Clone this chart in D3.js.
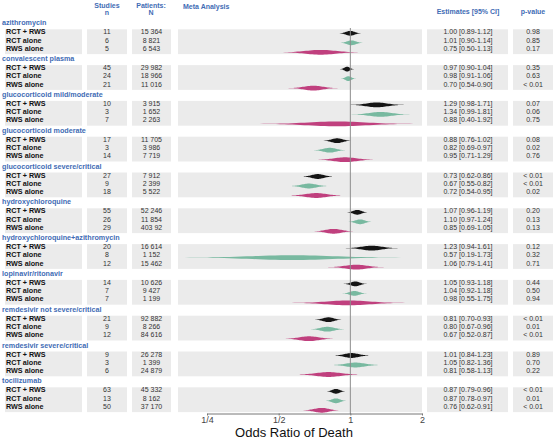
<!DOCTYPE html>
<html>
<head>
<meta charset="utf-8">
<script src="https://cdn.jsdelivr.net/npm/d3@7"></script>
<style>
  body { margin: 0; background: #fff; }
  svg text { font-family: "Liberation Sans", Arial, sans-serif; }
</style>
</head>
<body>
<div id="chart"></div>
<script>
"use strict";

var width = 555;
var height = 438;

// treatments (one panel each)
var groups = [
    "azithromycin",
    "convalescent plasma",
    "glucocorticoid mild/moderate",
    "glucocorticoid moderate",
    "glucocorticoid severe/critical",
    "hydroxychloroquine",
    "hydroxychloroquine+azithromycin",
    "lopinavir/ritonavir",
    "remdesivir not severe/critical",
    "remdesivir severe/critical",
    "tocilizumab"
];

var rowLabels = ["RCT + RWS", "RCT alone", "RWS alone"];

// per group: [RCT + RWS, RCT alone, RWS alone]
var studies = [
    [11, 6, 5], [45, 24, 21], [10, 3, 7], [17, 3, 14], [27, 9, 18], [55, 26, 29],
    [20, 8, 12], [14, 7, 7], [21, 9, 12], [9, 3, 6], [63, 13, 50]
];

var patients = [
    ["15 364", "8 821", "6 543"], ["29 982", "18 966", "11 016"], ["3 915", "1 652", "2 263"],
    ["11 705", "3 986", "7 719"], ["7 912", "2 399", "5 522"], ["52 246", "11 854", "403 92"],
    ["16 614", "1 152", "15 462"], ["10 626", "9 427", "1 199"], ["92 882", "8 266", "84 616"],
    ["26 278", "1 399", "24 879"], ["45 332", "8 162", "37 170"]
];

var estimates = [
    [1.00, 1.01, 0.75], [0.97, 0.98, 0.70], [1.29, 1.34, 0.88], [0.88, 0.82, 0.95],
    [0.73, 0.67, 0.72], [1.07, 1.10, 0.85], [1.23, 0.57, 1.06], [1.05, 1.04, 0.98],
    [0.81, 0.80, 0.67], [1.01, 1.05, 0.81], [0.87, 0.87, 0.76]
];

var lower = [
    [0.89, 0.90, 0.50], [0.90, 0.91, 0.54], [0.98, 0.99, 0.40], [0.76, 0.69, 0.71],
    [0.62, 0.55, 0.54], [0.96, 0.97, 0.69], [0.94, 0.19, 0.79], [0.93, 0.92, 0.55],
    [0.70, 0.67, 0.52], [0.84, 0.82, 0.58], [0.79, 0.78, 0.62]
];

var upper = [
    [1.12, 1.14, 1.13], [1.04, 1.06, 0.90], [1.71, 1.81, 1.92], [1.02, 0.97, 1.29],
    [0.86, 0.82, 0.95], [1.19, 1.24, 1.05], [1.61, 1.73, 1.41], [1.18, 1.18, 1.75],
    [0.93, 0.96, 0.87], [1.23, 1.36, 1.13], [0.96, 0.97, 0.91]
];

var pvalues = [
    ["0.98", "0.85", "0.17"], ["0.35", "0.63", "< 0.01"], ["0.07", "0.06", "0.75"],
    ["0.08", "0.02", "0.76"], ["< 0.01", "< 0.01", "0.02"], ["0.20", "0.13", "0.13"],
    ["0.12", "0.32", "0.71"], ["0.44", "0.50", "0.94"], ["< 0.01", "0.01", "< 0.01"],
    ["0.89", "0.70", "0.22"], ["< 0.01", "0.01", "< 0.01"]
];

var axisTicks = [0.25, 0.5, 1, 2];
var axisTickLabels = ["1/4", "1/2", "1", "2"];

var colors = ["#141414", "#78b9a0", "#c0407e"];
var blue = "#3f6cb5";
var panelFill = "#ebebeb";

// columns
var cols = {
    label: [5, 82],
    studies: [87, 127],
    patients: [132, 171],
    meta: [178, 422],
    est: [427, 508],
    p: [513, 553]
};

var x = d3.scaleLog().base(2).domain([0.25, 2]).range([207, 422]);

var groupTop = d3.scaleLinear().domain([0, 1]).range([29.3, 65.1]);
var panelH = 24.8;
var textOffset = [5, 13.3, 21.6];
var lensOffset = [4, 13.5, 23];

var svg = d3.select("#chart").append("svg")
    .attr("width", width)
    .attr("height", height);

// header
var header = svg.append("g")
    .attr("fill", blue)
    .attr("font-weight", "bold")
    .attr("font-size", 7);
header.append("text").attr("x", 107).attr("y", 7.5).attr("text-anchor", "middle").text("Studies");
header.append("text").attr("x", 107).attr("y", 15).attr("text-anchor", "middle").text("n");
header.append("text").attr("x", 151).attr("y", 7.5).attr("text-anchor", "middle").text("Patients:");
header.append("text").attr("x", 151).attr("y", 15).attr("text-anchor", "middle").text("N");
header.append("text").attr("x", 183).attr("y", 8.5).text("Meta Analysis");
header.append("text").attr("x", 468).attr("y", 13.5).attr("text-anchor", "middle").text("Estimates [95% CI]");
header.append("text").attr("x", 533).attr("y", 13.5).attr("text-anchor", "middle").text("p-value");

var g = svg.selectAll(".group")
    .data(groups)
    .enter().append("g")
    .attr("class", "group")
    .attr("transform", function(d, i) { return "translate(0," + groupTop(i) + ")"; });

// grey panels
Object.keys(cols).forEach(function(k) {
    g.append("rect")
        .attr("x", cols[k][0])
        .attr("y", 0)
        .attr("width", cols[k][1] - cols[k][0])
        .attr("height", panelH)
        .attr("fill", panelFill);
});

// group title
g.append("text")
    .attr("x", 2)
    .attr("y", -4)
    .attr("fill", blue)
    .attr("font-weight", "bold")
    .attr("font-size", 7.2)
    .text(function(d) { return d; });

// rows
var rows = g.selectAll(".row")
    .data(function(d, i) {
        return rowLabels.map(function(lab, j) {
            return {
                label: lab, j: j,
                n: studies[i][j], N: patients[i][j],
                est: estimates[i][j], lo: lower[i][j], hi: upper[i][j],
                p: pvalues[i][j]
            };
        });
    })
    .enter().append("g")
    .attr("class", "row");

rows.append("text")
    .attr("x", 6)
    .attr("y", function(d) { return textOffset[d.j]; })
    .attr("font-weight", "bold")
    .attr("font-size", 7.2)
    .attr("fill", "#111")
    .text(function(d) { return d.label; });

rows.append("text")
    .attr("x", 107)
    .attr("y", function(d) { return textOffset[d.j]; })
    .attr("text-anchor", "middle")
    .attr("font-size", 7)
    .attr("fill", "#333")
    .text(function(d) { return d.n; });

rows.append("text")
    .attr("x", 151.5)
    .attr("y", function(d) { return textOffset[d.j]; })
    .attr("text-anchor", "middle")
    .attr("font-size", 7)
    .attr("fill", "#333")
    .text(function(d) { return d.N; });

rows.append("text")
    .attr("x", 468)
    .attr("y", function(d) { return textOffset[d.j]; })
    .attr("text-anchor", "middle")
    .attr("font-size", 7)
    .attr("fill", "#333")
    .text(function(d) {
        return d.est.toFixed(2) + " [" + d.lo.toFixed(2) + "-" + d.hi.toFixed(2) + "]";
    });

rows.append("text")
    .attr("x", 533)
    .attr("y", function(d) { return textOffset[d.j]; })
    .attr("text-anchor", "middle")
    .attr("font-size", 7)
    .attr("fill", "#333")
    .text(function(d) { return d.p; });

// spindle shaped estimate marks
function lensPath(d) {
    var h = 2.4;
    var xe = x(d.est), xl = x(d.lo), xh = x(d.hi);
    var top = [], bottom = [];
    var steps = 40;
    for (var s = 0; s <= steps; s++) {
        var t = s / steps * 2 - 1;
        var px = t < 0 ? xe + t * (xe - xl) : xe + t * (xh - xe);
        var u = Math.abs(t);
        var hy = h * Math.exp(-3 * u * u) * (1 - u * u);
        top.push([px, -hy]);
        bottom.push([px, hy]);
    }
    return d3.line()(top.concat(bottom.reverse())) + "Z";
}

rows.append("path")
    .attr("transform", function(d) { return "translate(0," + lensOffset[d.j] + ")"; })
    .attr("d", lensPath)
    .attr("fill", function(d) { return colors[d.j]; });

// reference line at OR = 1
svg.append("line")
    .attr("x1", x(1)).attr("x2", x(1))
    .attr("y1", 28).attr("y2", 414)
    .attr("stroke", "#8c8c8c")
    .attr("stroke-width", 1);

// axis
var axis = svg.append("g")
    .attr("transform", "translate(0,413.5)")
    .call(d3.axisBottom(x)
        .tickValues(axisTicks)
        .tickFormat(function(d, i) { return axisTickLabels[i]; })
        .tickSize(2)
        .tickPadding(1)
        .tickSizeOuter(0));
axis.select(".domain").attr("stroke", "#777");
axis.selectAll(".tick line").attr("stroke", "#777");
axis.selectAll(".tick text")
    .attr("font-family", "'Liberation Sans', Arial, sans-serif")
    .attr("font-size", 9)
    .attr("fill", "#444");

svg.append("text")
    .attr("x", 294)
    .attr("y", 436.5)
    .attr("text-anchor", "middle")
    .attr("font-size", 13)
    .attr("fill", "#111")
    .text("Odds Ratio of Death");
</script>
</body>
</html>
